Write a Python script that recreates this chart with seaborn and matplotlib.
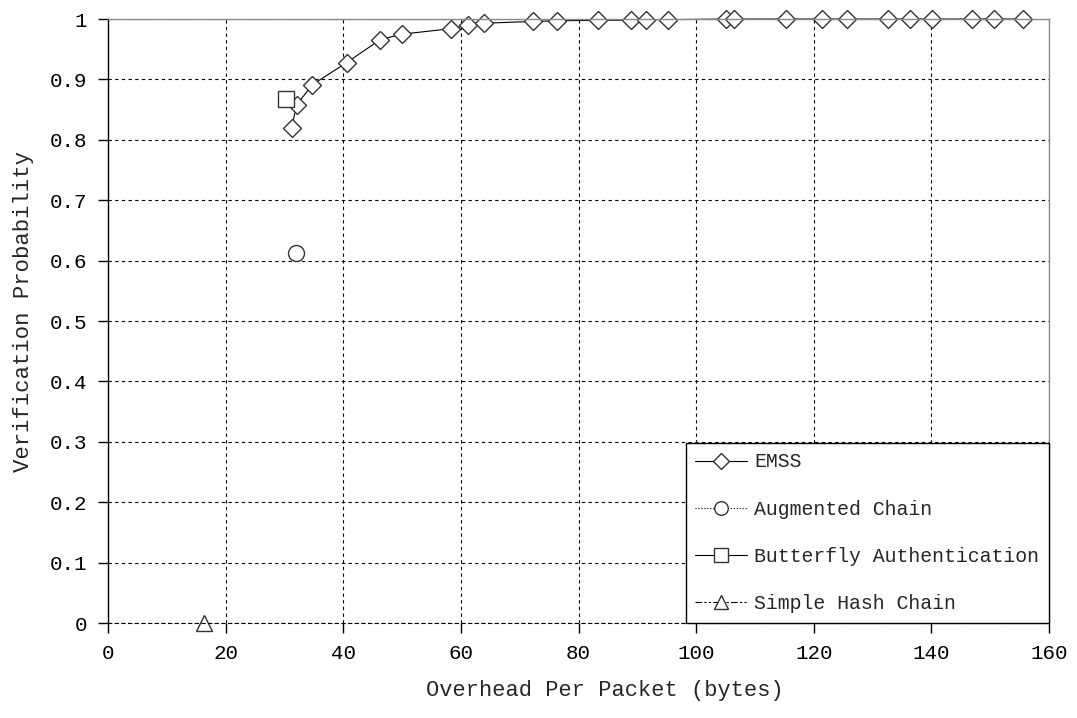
import matplotlib
matplotlib.use("Agg")
import matplotlib.pyplot as plt
import seaborn as sns

# ---- data ----
emss_x = [31.2, 32.1, 34.7, 40.6, 46.3, 50.0, 58.3, 61.2, 63.9, 72.2, 76.3, 83.3,
          89.0, 91.4, 95.3, 105.1, 106.4, 115.3, 121.4, 125.7, 132.6, 136.4, 140.1,
          146.9, 150.7, 155.5]
emss_y = [0.820, 0.858, 0.891, 0.928, 0.966, 0.975, 0.984, 0.990, 0.993, 0.996, 0.997, 0.998,
          0.998, 0.999, 0.999, 1.0, 1.0, 1.0, 1.0, 1.0, 1.0, 1.0, 1.0,
          1.0, 1.0, 1.0]
aug_x = [31.9]
aug_y = [0.613]
butterfly_x = [30.3]
butterfly_y = [0.867]
simple_x = [16.3]
simple_y = [0.0]

x_ticks = [0, 20, 40, 60, 80, 100, 120, 140, 160]
y_ticks = [0, 0.1, 0.2, 0.3, 0.4, 0.5, 0.6, 0.7, 0.8, 0.9, 1.0]
y_tick_labels = ["0", "0.1", "0.2", "0.3", "0.4", "0.5", "0.6", "0.7", "0.8", "0.9", "1"]

sns.set_style("ticks")
plt.rcParams["font.family"] = ["Liberation Mono", "DejaVu Sans Mono"]

fig = plt.figure(figsize=(10.77, 7.18), dpi=100)
ax = fig.add_axes([0.1003, 0.1323, 0.8737, 0.8412])

mk = dict(markerfacecolor="white", markeredgecolor="#333333", markeredgewidth=1.0,
          color="black", clip_on=False)

sns.lineplot(x=emss_x, y=emss_y, ax=ax, marker="D", markersize=9.5, linewidth=0.8,
             linestyle="-", label="EMSS", sort=False, **mk)
sns.lineplot(x=aug_x, y=aug_y, ax=ax, marker="o", markersize=11.5, linewidth=0.8,
             linestyle=":", label="Augmented Chain", **mk)
sns.lineplot(x=butterfly_x, y=butterfly_y, ax=ax, marker="s", markersize=11.5, linewidth=0.8,
             linestyle="-", label="Butterfly Authentication", **mk)
sns.lineplot(x=simple_x, y=simple_y, ax=ax, marker="^", markersize=12, linewidth=0.8,
             linestyle=(0, (6, 2, 2, 2, 2, 2)), label="Simple Hash Chain", **mk)

ax.set_xlim(0, 160)
ax.set_ylim(0, 1)
ax.set_xticks(x_ticks)
ax.set_xticklabels([str(t) for t in x_ticks])
ax.set_yticks(y_ticks)
ax.set_yticklabels(y_tick_labels)

ax.grid(True, color="black", linestyle=(0, (3, 3)), linewidth=0.8)
ax.set_axisbelow(True)

for s in ["top", "right"]:
    ax.spines[s].set_color("#8a8a8a")
    ax.spines[s].set_linewidth(1.0)
ax.spines["left"].set_color("black")
ax.spines["left"].set_linewidth(1.0)
ax.spines["bottom"].set_color("black")
ax.spines["bottom"].set_linestyle((0, (3, 3)))
ax.spines["bottom"].set_linewidth(0.8)

ax.tick_params(axis="both", direction="out", length=7, width=1, colors="black",
               labelsize=15, pad=8)

ax.set_xlabel("Overhead Per Packet (bytes)", fontsize=15.8)
ax.set_ylabel("Verification Probability", fontsize=16)
ax.xaxis.set_label_coords(0.528, -0.095)
ax.yaxis.set_label_coords(-0.079, 0.516)

leg = ax.legend(loc="lower right", bbox_to_anchor=(1.0, 0.0), fontsize=14.3,
                frameon=True, fancybox=False, shadow=False, borderaxespad=0,
                handlelength=2.6, labelspacing=1.42, borderpad=0.5, handletextpad=0.35,
                markerscale=0.85)
leg.get_frame().set_edgecolor("black")
leg.get_frame().set_linewidth(1.0)
leg.get_frame().set_alpha(1.0)
leg.set_zorder(5)

fig.savefig("out.png", dpi=100)
